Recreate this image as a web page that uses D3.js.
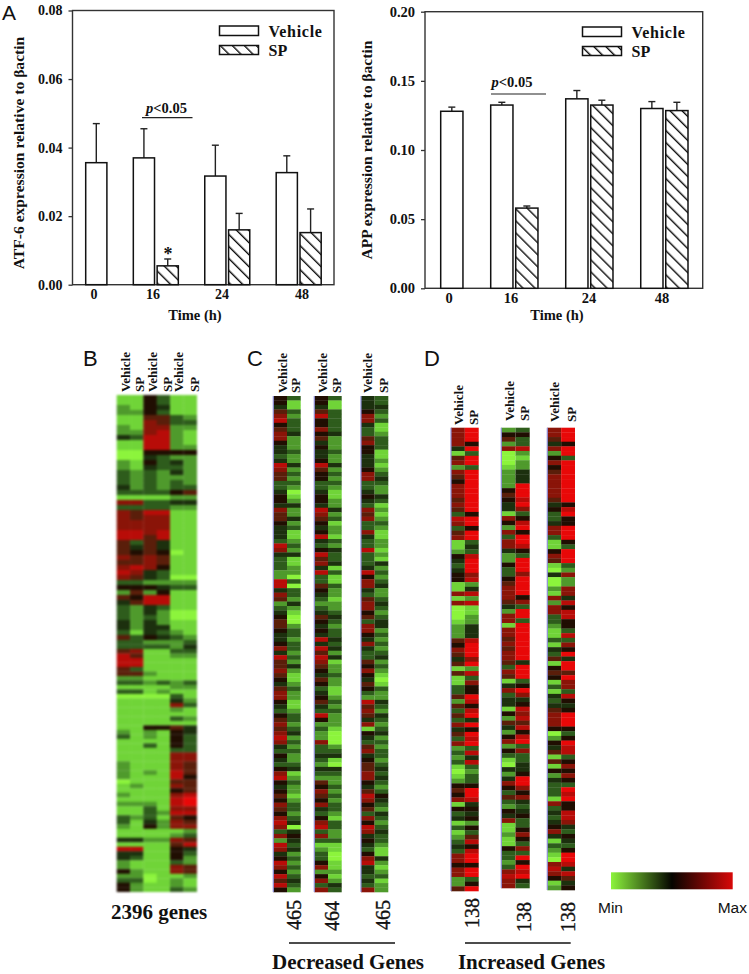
<!DOCTYPE html>
<html>
<head>
<meta charset="UTF-8">
<title>ATF-6 and APP expression, gene heat maps</title>
<style>
body { margin: 0; background: #fff; }
svg { display: block; }
text { font-family: "Liberation Serif", serif; fill: #111; }
.bold { font-weight: bold; }
.sans { font-family: "Liberation Sans", sans-serif; }
.count { stroke: #111; stroke-width: 0.35px; }
.frame { fill: none; stroke: #333; stroke-width: 1.4px; }
.bar { stroke: #111; stroke-width: 1.5px; }
.err { stroke: #222; stroke-width: 1.4px; }
.tick line { stroke: #333; stroke-width: 1.3px; }
</style>
</head>
<body>
<script src="https://d3js.org/d3.v7.min.js"></script>
<script>

// bar charts. "gap" slots keep the uneven spacing of the original
var barSlots = ["0 V", "gap1", "16 V", "16 SP", "gap2", "24 V", "24 SP", "gap3", "48 V", "48 SP"];
var barNames = ["0 V", "16 V", "16 SP", "24 V", "24 SP", "48 V", "48 SP"];
var timeLabels = ["0", "16", "24", "48"];
var atfValues = [0.0356, 0.037, 0.0055, 0.0317, 0.016, 0.0327, 0.0152];
var atfTops = [0.047, 0.0455, 0.0075, 0.0407, 0.0208, 0.0376, 0.0221];
var appValues = [0.128, 0.1325, 0.058, 0.137, 0.1325, 0.130, 0.1285];
var appTops = [0.131, 0.1345, 0.0595, 0.143, 0.136, 0.135, 0.1345];
var atfTicks = [0, 0.02, 0.04, 0.06, 0.08];
var appTicks = [0, 0.05, 0.10, 0.15, 0.20];

// heat map levels: 0 bright green, 4-5 black, 9 bright red
var heatBTop = [
"115311","115311","215411","225311","116632","117633","217722","227821","438821","118821","118822","005555",
"004322","215342","214332","323242","323222","323232","423233","333356","111122","773344","333322","768811",
"767711","777711","777711","887811","886811","636411","646411","656501","767611","667611","787511","874311",
"764300","332222","555433","262511","658811","468811","324311","324200","323200","424211","424411","314321",
"635432"
];
var heatBBottom = [
"332223","333324","671133","861122","881111","881111","631111","662111","221111","332323","111122",
"331211","000031","111142","111173","111121","111111","111132","111111","115564","212154","312153","111153",
"113153","111133","111177","111177","211176","211176","212186","211185","011166","121176","111156","211178",
"111189","222189","113177","113288","323165","314276","215277","111112","111123","442276","111168","881154",
"441153","431152","211132","211176","521176","220112","330121","521121","521132"
];
var heatC1Vehicle = "5546785677544348766334554766544438743332288476234566" + "54457486" + "6" + "76546775435676787435435785456576578737287458758685";
var heatC1SP = "3113233342223224232320124224231123241122030332421002" + "33233232" + "4" + "21123221123323423232234123221233234045434232323432";
var heatC2Vehicle = "5546855756454458655334554876545843586748336543234654" + "54848687" + "6" + "54653456438523227334324326576574357837312335725737";
var heatC2SP = "3113333342223224232321122423122132433413113221223432" + "33434241" + "2" + "23221123232221000234104322323233213322311001121243";
var heatC3Vehicle = "4445774336755444577334543767337433833348577436775637" + "75474336" + "5" + "75465328676471543674566775468756375874543578443437";
var heatC3SP = "3343231123331121234322431212321122121423234223432344" + "23232342" + "3" + "21013224324323423233234343235432432343321142123122";
var heatD1Vehicle = "777741672765777676387367112543455117170001222657646161" + "133626363746372323101256571534131234377577226";
var heatD1SP = "999593993999999999599599343899978248281122444899979283" + "755985894959893848323359984545253685899599359";
var heatD2Vehicle = "256270001222256544175273774225335677764277177676776376" + "147344152642572531042475363254711211533237877";
var heatD2SP = "353382122444999897358959985399979999573993999999994999" + "359745878685893733445997574345335753739598943";
var heatD3Vehicle = "776472575677777645334773115761040021727733211314361565" + "131434677750254616152433317343457413210787512";
var heatD3SP = "999599399999999958955999539993272277485885538375949969" + "773854599953598835757539895588743543599848645";
var legendLevels = [0, 4.5, 9];

var width = 749, height = 974;
var svg = d3.select("body").append("svg").attr("width", width).attr("height", height);

var defs = svg.append("defs");
var hatch = defs.append("pattern").attr("id", "hatch")
    .attr("patternUnits", "userSpaceOnUse")
    .attr("width", 8.5).attr("height", 8.5)
    .attr("patternTransform", "rotate(45)");
hatch.append("rect").attr("width", 8.5).attr("height", 8.5).attr("fill", "#fff");
hatch.append("line").attr("x1", 0).attr("x2", 8.5).attr("y1", 4).attr("y2", 4)
    .attr("stroke", "#111").attr("stroke-width", 1.4);

function label(parent, str, x, y, size, cls, anchor) {
  return parent.append("text").attr("x", x).attr("y", y)
      .attr("font-size", size).attr("class", cls || "")
      .attr("text-anchor", anchor || "start").text(str);
}

function vlabel(parent, str, x, y, size, cls, anchor) {
  return parent.append("text")
      .attr("transform", "translate(" + x + "," + y + ") rotate(-90)")
      .attr("font-size", size).attr("class", cls || "")
      .attr("text-anchor", anchor || "start").text(str);
}

function barChart(o) {
  var g = svg.append("g");
  var x = d3.scaleBand().domain(barSlots).range([o.barLeft, o.barRight]).paddingInner(0.11);
  var y = d3.scaleLinear().domain([0, o.ticks[o.ticks.length - 1]]).range([o.bottom, o.top]);

  g.append("rect").attr("class", "frame")
      .attr("x", o.left).attr("y", o.top)
      .attr("width", o.right - o.left).attr("height", o.bottom - o.top);

  var axis = g.append("g").attr("transform", "translate(" + o.left + ",0)")
      .call(d3.axisLeft(y).tickValues(o.ticks).tickFormat(d3.format(".2f")).tickSize(4).tickPadding(6));
  axis.select(".domain").remove();
  axis.selectAll("text").attr("font-size", o.tickSize).attr("class", "bold")
      .style("font-family", "Liberation Serif");

  barNames.forEach(function(name, i) {
    var cx = x(name) + x.bandwidth() / 2;
    g.append("line").attr("class", "err").attr("x1", cx).attr("x2", cx)
        .attr("y1", y(o.values[i])).attr("y2", y(o.tops[i]));
    g.append("line").attr("class", "err").attr("x1", cx - 3.5).attr("x2", cx + 3.5)
        .attr("y1", y(o.tops[i])).attr("y2", y(o.tops[i]));
    g.append("rect").attr("class", "bar")
        .attr("x", x(name)).attr("y", y(o.values[i]))
        .attr("width", x.bandwidth()).attr("height", y(0) - y(o.values[i]))
        .attr("fill", name.indexOf("SP") > 0 ? "url(#hatch)" : "#fff");
  });

  timeLabels.forEach(function(t, i) {
    label(g, t, o.tickX[i], o.bottom + 14.7, o.tickSize, "bold", "middle");
  });
  label(g, "Time (h)", o.timeX, 320, 14.5, "bold", "middle");
  vlabel(g, o.ylabel, o.ylabelX, o.ylabelY, o.ylabelSize, "bold", "middle");

  g.append("rect").attr("class", "bar").attr("fill", "#fff")
      .attr("x", o.legX).attr("y", o.legY).attr("width", 39).attr("height", 9.5);
  g.append("rect").attr("class", "bar").attr("fill", "url(#hatch)")
      .attr("x", o.legX).attr("y", o.legY + 19.5).attr("width", 39).attr("height", 9);
  label(g, "Vehicle", o.legX + 49, o.legY + 11, 16, "bold").attr("letter-spacing", 0.7);
  label(g, "SP", o.legX + 49, o.legY + 30, 16, "bold");

  var p = label(g, "", o.pX, o.pY, 14.5, "bold");
  p.append("tspan").attr("font-style", "italic").text("p");
  p.append("tspan").text("<0.05");
  g.append("line").attr("x1", o.pLine[0]).attr("x2", o.pLine[1])
      .attr("y1", o.pLine[2]).attr("y2", o.pLine[2])
      .attr("stroke", "#222").attr("stroke-width", 1.2);
  if (o.star) label(g, "*", o.star[0], o.star[1], 18, "bold", "middle");
}

barChart({
  values: atfValues, tops: atfTops, ticks: atfTicks,
  left: 72.5, right: 334, top: 10.5, bottom: 284.7,
  barLeft: 85.7, barRight: 321.2, tickSize: 14,
  tickX: [94, 153, 222, 302], timeX: 195,
  ylabel: "ATF-6 expression relative to βactin", ylabelX: 24, ylabelY: 153, ylabelSize: 15.6,
  legX: 219.5, legY: 26, pX: 146, pY: 113, pLine: [142, 192.5, 117.7], star: [168, 260]
});
barChart({
  values: appValues, tops: appTops, ticks: appTicks,
  left: 425, right: 702.7, top: 11.7, bottom: 288.3,
  barLeft: 440.7, barRight: 688, tickSize: 14.5,
  tickX: [449, 511, 589, 662], timeX: 557,
  ylabel: "APP expression relative to βactin", ylabelX: 372, ylabelY: 150, ylabelSize: 15.6,
  legX: 582.5, legY: 27, pX: 491.5, pY: 87, pLine: [491, 546, 94]
});

label(svg, "A", 2, 20, 21, "sans");
label(svg, "B", 83, 366, 22, "sans");
label(svg, "C", 247, 366, 22, "sans");
label(svg, "D", 424, 366, 22, "sans");

// heat maps
var levelColor = d3.scaleLinear()
    .domain([0, 1, 2, 3, 4, 5, 6, 7, 8, 9])
    .range(["#8cf43c", "#70d438", "#4f9a2c", "#2e5c1c", "#1c300e", "#200e02", "#5a1e0a", "#8a1408", "#b80c08", "#e80808"]);

function column(g, levels, x0, x1, y0, y1) {
  var y = d3.scaleBand().domain(d3.range(levels.length)).range([y0, y1]);
  g.selectAll(null).data(levels.split("")).enter().append("rect")
      .attr("x", x0).attr("width", x1 - x0)
      .attr("y", function(d, i) { return y(i); })
      .attr("height", y.bandwidth() + 0.3)
      .attr("fill", function(d) { return levelColor(+d); });
}

var gB = svg.append("g").style("filter", "blur(1px)");
var bCols = d3.scaleBand().domain(d3.range(6)).range([116.7, 196.7]);
function heatBlock(rows, top, bottom) {
  var bRows = d3.scaleBand().domain(d3.range(rows.length)).range([top, bottom]);
  rows.forEach(function(row, r) {
    row.split("").forEach(function(v, c) {
      gB.append("rect").attr("x", bCols(c)).attr("y", bRows(r))
          .attr("width", bCols.bandwidth() + 0.3).attr("height", bRows.bandwidth() + 0.3)
          .attr("fill", levelColor(+v));
    });
  });
}
heatBlock(heatBTop, 395, 640);
heatBlock(heatBBottom, 640, 891.7);

function strip(vehicle, sp, left, right, top, bottom) {
  var g = svg.append("g").style("filter", "blur(0.5px)");
  var mid = (left + right) / 2;
  column(g, vehicle, left, mid, top, bottom);
  column(g, sp, mid, right, top, bottom);
  svg.append("line").attr("x1", left).attr("x2", left).attr("y1", top).attr("y2", bottom)
      .attr("stroke", "#8f8fd8").attr("stroke-width", 1.2);
}

strip(heatC1Vehicle, heatC1SP, 273.3, 300.7, 396, 892);
strip(heatC2Vehicle, heatC2SP, 314.3, 341.7, 396, 892);
strip(heatC3Vehicle, heatC3SP, 361, 388.3, 396, 892);
strip(heatD1Vehicle, heatD1SP, 451, 478.7, 427.7, 891);
strip(heatD2Vehicle, heatD2SP, 501.3, 529.7, 427.7, 888);
strip(heatD3Vehicle, heatD3SP, 547.3, 575, 427.7, 890);

// column headings
[[125, "Vehicle"], [139, "SP"], [152, "Vehicle"], [167, "SP"], [178, "Vehicle"], [194, "SP"]].forEach(function(d) {
  vlabel(svg, d[1], d[0] + 5, 392, 13, "bold");
});
[[281.7, 393, "Vehicle"], [295, 393, "SP"], [321.7, 393, "Vehicle"], [336, 393, "SP"], [366.7, 393, "Vehicle"], [382.7, 393, "SP"],
 [458, 425, "Vehicle"], [472.7, 425, "SP"], [509, 421, "Vehicle"], [524, 421, "SP"], [554, 422, "Vehicle"], [571, 422, "SP"]].forEach(function(d) {
  vlabel(svg, d[2], d[0] + 5, d[1], 13, "bold");
});

// gene counts
label(svg, "2396 genes", 159, 919, 21, "bold", "middle");
[[301, 930, "465"], [339, 931, "464"], [390, 930, "465"], [479, 928, "138"], [531, 932, "138"], [575, 932, "138"]].forEach(function(d) {
  vlabel(svg, d[2], d[0], d[1], 20, "count");
});
svg.append("line").attr("x1", 289).attr("x2", 395).attr("y1", 943).attr("y2", 943).attr("stroke", "#111").attr("stroke-width", 1.5);
svg.append("line").attr("x1", 465).attr("x2", 570.7).attr("y1", 943).attr("y2", 943).attr("stroke", "#111").attr("stroke-width", 1.5);
label(svg, "Decreased Genes", 348, 968.5, 21, "bold", "middle");
label(svg, "Increased Genes", 531.5, 968.5, 21, "bold", "middle");

// colour key
var keyScale = d3.scaleLinear().domain(d3.extent(legendLevels)).range([611, 732.7]);
var grad = defs.append("linearGradient").attr("id", "keyGrad");
grad.selectAll("stop").data(legendLevels).enter().append("stop")
    .attr("offset", function(d) { return (keyScale(d) - 611) / (732.7 - 611); })
    .attr("stop-color", function(d, i) { return ["#8cf43c", "#050500", "#d80808"][i]; });
svg.append("rect").attr("x", keyScale(0)).attr("y", 872.3)
    .attr("width", keyScale(9) - keyScale(0)).attr("height", 17)
    .attr("fill", "url(#keyGrad)");
label(svg, "Min", 598, 912.7, 15.5, "sans");
label(svg, "Max", 747, 912.7, 15.5, "sans", "end");

</script>
</body>
</html>
